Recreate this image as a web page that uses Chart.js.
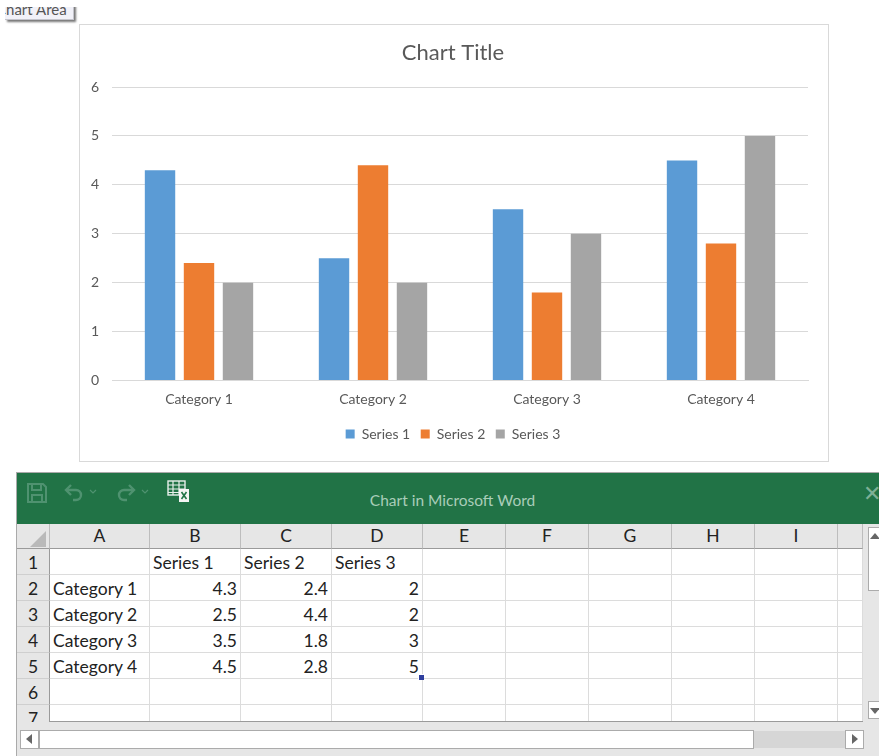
<!DOCTYPE html>
<html>
<head>
<meta charset="utf-8">
<title>Chart in Microsoft Word</title>
<script src="https://cdn.jsdelivr.net/npm/chart.js@4/dist/chart.umd.js"></script>
<style>
  html, body { margin: 0; padding: 0; background: #fff; width: 879px; height: 756px; overflow: hidden; font-family: Lato, sans-serif; }
  body { filter: blur(0.35px); }
  .abs { position: absolute; box-sizing: border-box; }
  #tip-clip { left: 5px; top: 7px; width: 74px; height: 18px; overflow: hidden; }
  #tip { left: 0; top: -8px; width: 69px; height: 21px; background: #f1f1f8; border-right: 1px solid #c4c4cc; border-bottom: 1px solid #c4c4cc; box-shadow: 2px 2px 2px #777; color: #555; font-size: 15px; line-height: 21px; white-space: nowrap; overflow: hidden; text-indent: -9px; }
  #chart-box { left: 79px; top: 24px; width: 750px; height: 438px; border: 1px solid #d9d9d9; }
  #chart-wrap { left: 80px; top: 25px; width: 746px; height: 436px; }
  #window { left: 16px; top: 472px; width: 863px; height: 284px; background: #e6e6e6; border-left: 1px solid #aaa; border-top: 1px solid #aaa; overflow: hidden; }
  #titlebar { left: 0; top: 0; width: 863px; height: 51px; background: #217346; }
  #titlebar svg { position: absolute; }
  #titlebar .name { position: absolute; left: 0; width: 871px; top: 17px; text-align: center; color: #a9cdb9; font-size: 15.5px; line-height: 20px; }
  #close { position: absolute; left: 846px; top: 9px; color: #7fb096; font-size: 22px; line-height: 22px; }
  #grid-clip { left: 0; top: 51px; width: 846px; height: 198px; overflow: hidden; background: #e6e6e6; }
  table { border-collapse: separate; border-spacing: 0; table-layout: fixed; width: 846px; }
  td, th { box-sizing: border-box; height: 26px; padding: 2px 3px 0; font-size: 17.5px; line-height: 23px; font-weight: 400; color: #222; white-space: nowrap; overflow: hidden; background: #fff; border-right: 1px solid #dcdcdc; border-bottom: 1px solid #dcdcdc; }
  th { background: #e6e6e6; text-align: center; border-right: 1px solid #bdbdbd; border-bottom: 1px solid #bdbdbd; }
  tr.head th { height: 25px; padding-top: 0; line-height: 24px; border-bottom: 1px solid #9a9a9a; }
  tr.head th.corner { background: #e6e6e6; }
  td.num { text-align: right; }
  tbody tr th { border-right: 1px solid #9a9a9a; border-bottom: 1px solid #cfcfcf; }
  #corner-mark { left: 13px; top: 58px; width: 0; height: 0; border-left: 16px solid transparent; border-bottom: 16px solid #b9b9b9; }
  #handle { left: 401px; top: 201px; width: 6px; height: 6px; background: #2f3f9e; border-left: 1px solid #fff; border-top: 1px solid #fff; }
  #sheet-bottom { left: 33px; top: 248px; width: 813px; height: 1px; background: #9a9a9a; }
  .btn { background: #fff; border: 1px solid #ababab; color: #666; }
  .tri { position: absolute; width: 0; height: 0; }
  #hthumb { left: 22px; top: 257px; width: 715px; height: 19px; background: #fff; border: 1px solid #ababab; }
  #htrack { left: 737px; top: 258px; width: 91px; height: 17px; background: #d6d6d6; }
</style>
</head>
<body>
<div id="tip-clip" class="abs"><div id="tip" class="abs">Chart Area</div></div>
<div id="chart-box" class="abs"></div>
<div id="chart-wrap" class="abs"><canvas id="chart" width="746" height="436"></canvas></div>

<div id="window" class="abs">
  <div id="titlebar" class="abs">
    <svg style="left:9px;top:9px" width="22" height="22" viewBox="0 0 22 22" fill="none" stroke="#4f9270" stroke-width="2">
      <path d="M2 2h15l3 3v15H2z"/><path d="M6 2v6h9V2"/><path d="M6 20v-7h10v7"/>
    </svg>
    <svg style="left:46px;top:9px" width="36" height="20" viewBox="0 0 36 20" fill="none" stroke="#4f9270" stroke-width="2.4">
      <path d="M8 3L3 8l5 5"/><path d="M3 8h10a5 5 0 0 1 0 10h-3"/><path d="M27 8l3 3 3-3" stroke-width="1.2"/>
    </svg>
    <svg style="left:98px;top:9px" width="36" height="20" viewBox="0 0 36 20" fill="none" stroke="#4f9270" stroke-width="2.4">
      <path d="M14 3l5 5-5 5"/><path d="M19 8H9a5 5 0 0 0 0 10h3"/><path d="M27 8l3 3 3-3" stroke-width="1.2"/>
    </svg>
    <svg style="left:150px;top:7px" width="24" height="23" viewBox="0 0 24 23">
      <rect x="1" y="1" width="17" height="14" fill="#217346" stroke="#e8f0ec" stroke-width="1.4"/>
      <path d="M1 5h17M1 9h17M1 12.5h17M6 1v14M12 1v14" stroke="#e8f0ec" stroke-width="1.2"/>
      <rect x="12" y="9" width="10" height="13" fill="#f4f4f4"/>
      <path d="M14.5 12l5 7M19.5 12l-5 7" stroke="#217346" stroke-width="1.6"/>
    </svg>
    <div class="name">Chart in Microsoft Word</div>
    <div id="close">✕</div>
  </div>
  <div id="grid-clip" class="abs"><table id="sheet"></table></div>
  <div id="corner-mark" class="abs"></div>
  <div id="sheet-bottom" class="abs"></div>
  <div id="handle" class="abs"></div>

  <div class="abs btn" style="left:851px;top:54px;width:14px;height:18px"><div class="tri" style="left:1px;top:5px;border-left:5px solid transparent;border-right:5px solid transparent;border-bottom:6px solid #666"></div></div>
  <div class="abs btn" style="left:851px;top:71px;width:14px;height:47px;border-top:0"></div>
  <div class="abs btn" style="left:851px;top:228px;width:14px;height:18px"><div class="tri" style="left:1px;top:6px;border-left:5px solid transparent;border-right:5px solid transparent;border-top:6px solid #666"></div></div>

  <div class="abs btn" style="left:3px;top:257px;width:19px;height:19px"><div class="tri" style="left:5px;top:3px;border-top:5px solid transparent;border-bottom:5px solid transparent;border-right:6px solid #666"></div></div>
  <div id="hthumb" class="abs"></div>
  <div id="htrack" class="abs"></div>
  <div class="abs btn" style="left:828px;top:257px;width:19px;height:19px"><div class="tri" style="left:6px;top:3px;border-top:5px solid transparent;border-bottom:5px solid transparent;border-left:6px solid #666"></div></div>
</div>

<script>
  const categories = ["Category 1", "Category 2", "Category 3", "Category 4"];
  const seriesNames = ["Series 1", "Series 2", "Series 3"];
  const series1 = [4.3, 2.5, 3.5, 4.5];
  const series2 = [2.4, 4.4, 1.8, 2.8];
  const series3 = [2, 2, 3, 5];
  const seriesColors = ["#5B9BD5", "#ED7D31", "#A5A5A5"];
  const columnLetters = ["", "A", "B", "C", "D", "E", "F", "G", "H", "I", ""];
  const columnWidths = [33, 100, 91, 91, 91, 83, 83, 83, 83, 83, 25];
  const rowCount = 7;

  const TEXT = "#595959";
  const GRID = "#d9d9d9";

  const allSeries = [series1, series2, series3];

  new Chart(document.getElementById("chart").getContext("2d"), {
    type: "bar",
    data: {
      labels: categories,
      datasets: allSeries.map((values, i) => ({
        label: seriesNames[i],
        data: values,
        backgroundColor: seriesColors[i],
        categoryPercentage: 0.672,
        barPercentage: 0.78,
      })),
    },
    options: {
      animation: false,
      responsive: false,
      layout: { padding: { left: 0, right: 0, top: 0, bottom: 10 } },
      plugins: {
        tooltip: { enabled: false },
        title: {
          display: true,
          text: "Chart Title",
          color: TEXT,
          font: { family: "Lato", size: 22, weight: "400" },
          padding: { top: 15, bottom: 20.6 },
        },
        legend: {
          position: "bottom",
          labels: {
            color: TEXT,
            font: { family: "Lato", size: 14 },
            boxWidth: 9,
            boxHeight: 9,
            padding: 10.5,
          },
        },
      },
      scales: {
        x: {
          afterFit: (scale) => { scale.height = 36; },
          grid: { display: false, drawTicks: false },
          border: { color: GRID },
          ticks: { color: TEXT, font: { family: "Lato", size: 14 }, padding: 11, maxRotation: 0 },
        },
        y: {
          min: 0,
          max: 6,
          afterFit: (scale) => { scale.width = 32; },
          grid: { color: GRID, drawTicks: false },
          border: { display: false },
          ticks: { stepSize: 1, color: TEXT, font: { family: "Lato", size: 14 }, padding: 13 },
        },
        // empty right axis: reserves the margin right of the plot while title and legend stay centred on the box
        spacer: {
          position: "right",
          min: 0,
          max: 6,
          afterFit: (scale) => { scale.width = 18; },
          grid: { display: false, drawTicks: false },
          border: { display: false },
          ticks: { display: false },
        },
      },
    },
  });

  // the embedded data sheet, filled from the same arrays as the chart
  function buildSheet() {
    const table = document.getElementById("sheet");
    const colgroup = document.createElement("colgroup");
    for (const w of columnWidths) {
      const col = document.createElement("col");
      col.style.width = `${w}px`;
      colgroup.appendChild(col);
    }
    table.appendChild(colgroup);

    const head = document.createElement("tr");
    head.className = "head";
    columnLetters.forEach((letter, i) => {
      const th = document.createElement("th");
      if (i === 0) th.className = "corner";
      th.textContent = letter;
      head.appendChild(th);
    });
    table.appendChild(head);

    const tbody = document.createElement("tbody");
    for (let r = 1; r <= rowCount; r++) {
      const tr = document.createElement("tr");
      const rowHead = document.createElement("th");
      rowHead.textContent = String(r);
      tr.appendChild(rowHead);
      for (let c = 1; c < columnWidths.length; c++) {
        const td = document.createElement("td");
        if (r === 1 && c >= 2 && c <= 4) td.textContent = seriesNames[c - 2];
        if (r >= 2 && r <= 5) {
          if (c === 1) td.textContent = categories[r - 2];
          if (c >= 2 && c <= 4) {
            td.textContent = String(allSeries[c - 2][r - 2]);
            td.className = "num";
          }
        }
        tr.appendChild(td);
      }
      tbody.appendChild(tr);
    }
    table.appendChild(tbody);
  }
  buildSheet();
</script>
</body>
</html>
